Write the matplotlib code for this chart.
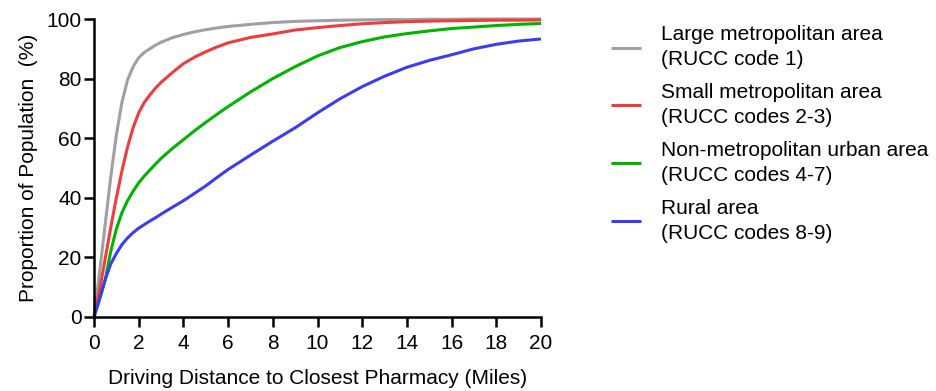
import matplotlib
matplotlib.use("Agg")
import matplotlib.pyplot as plt

plt.rcParams['font.family'] = ['Liberation Sans', 'DejaVu Sans']

miles = [0, 0.25, 0.5, 0.75, 1, 1.25, 1.5, 1.75, 2, 2.25, 2.5, 2.75, 3, 3.5,
         4, 4.5, 5, 5.5, 6, 7, 8, 9, 10, 11, 12, 13, 14, 15, 16, 17, 18, 19, 20]

large_metro = [0, 15, 31, 47, 61, 72, 79.5, 84, 87, 88.8, 90, 91.2, 92.2,
               93.7, 94.8, 95.7, 96.4, 97, 97.5, 98.2, 98.8, 99.2, 99.4,
               99.6, 99.7, 99.8, 99.8, 99.9, 99.9, 100, 100, 100, 100]
small_metro = [0, 9, 19.5, 30, 40, 49, 57, 63.5, 68.5, 72, 74.5, 76.8, 78.7,
               82, 85, 87.2, 89, 90.6, 92, 93.8, 95, 96.3, 97.1, 97.8, 98.4,
               98.8, 99.1, 99.3, 99.4, 99.5, 99.6, 99.6, 99.7]
nonmetro_urban = [0, 6, 12.5, 22, 29.5, 35, 39, 42.2, 45, 47.3, 49.3, 51.3,
                  53.2, 56.5, 59.5, 62.5, 65.3, 68, 70.6, 75.5, 80, 84, 87.6,
                  90.4, 92.4, 94, 95.1, 96, 96.8, 97.3, 97.8, 98.2, 98.5]
rural = [0, 6, 12.5, 17.8, 21.3, 24.3, 26.5, 28.3, 29.8, 31, 32.2, 33.3, 34.5,
         36.8, 39, 41.5, 44, 46.8, 49.5, 54.3, 59, 63.5, 68.5, 73.2, 77.3,
         80.8, 83.8, 86.1, 88, 90, 91.5, 92.6, 93.3]

labels = ["Large metropolitan area\n(RUCC code 1)",
          "Small metropolitan area\n(RUCC codes 2-3)",
          "Non-metropolitan urban area\n(RUCC codes 4-7)",
          "Rural area\n(RUCC codes 8-9)"]
colors = ["#a0a0a4", "#f03c3c", "#00b400", "#3c3cf0"]
series = [large_metro, small_metro, nonmetro_urban, rural]

xticks = list(range(0, 21, 2))
yticks = list(range(0, 101, 20))

fig = plt.figure(figsize=(9.37, 3.91), dpi=100)
ax = fig.add_axes([0.1003, 0.1893, 0.4771, 0.7621])

handles = []
for ys, c, lab in zip(series, colors, labels):
    h, = ax.plot(miles, ys, color=c, lw=2.2, label=lab, clip_on=False,
                 solid_capstyle='butt', solid_joinstyle='round')
    handles.append(h)

ax.set_xlim(0, 20)
ax.set_ylim(0, 100)
ax.set_xticks(xticks)
ax.set_yticks(yticks)
ax.spines['top'].set_visible(False)
ax.spines['right'].set_visible(False)
for s in ['left', 'bottom']:
    ax.spines[s].set_linewidth(1.8)
ax.tick_params(axis='both', direction='out', length=7, width=1.8,
               labelsize=15)
ax.tick_params(axis='x', pad=5)
ax.tick_params(axis='y', pad=2)
ax.set_xlabel("Driving Distance to Closest Pharmacy (Miles)", fontsize=15,
              labelpad=12)
ax.set_ylabel("Proportion of Population  (%)", fontsize=15, labelpad=6)

leg = fig.legend(handles=handles, labels=labels, loc='upper left',
                 bbox_to_anchor=(0.652, 0.935), frameon=False, fontsize=15,
                 handlelength=1.45, handletextpad=0.95, labelspacing=0.66,
                 borderpad=0, borderaxespad=0)
for line in leg.get_lines():
    line.set_linewidth(2.2)
for t in leg.get_texts():
    t.set_linespacing(1.4)

fig.savefig("out.png", dpi=100)
